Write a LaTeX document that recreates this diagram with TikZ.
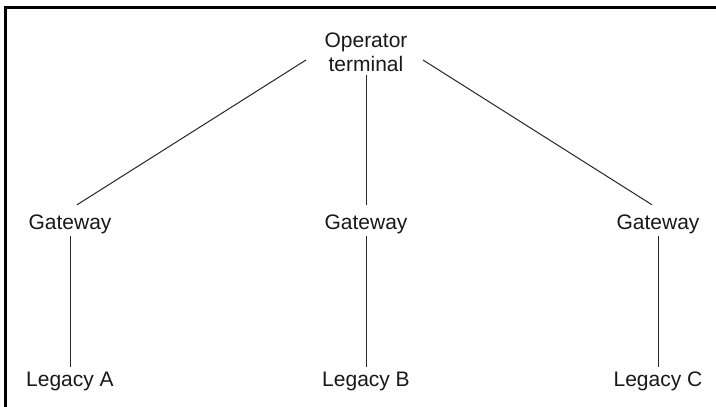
\documentclass[tikz,border=0pt]{standalone}
\usepackage{fontspec}
\setmainfont{Liberation Sans}
\begin{document}
\begin{tikzpicture}[x=1pt,y=-1pt,
  lbl/.style={inner sep=0pt, font=\fontsize{21}{24}\selectfont, text=black!90},
  gw/.style={lbl, anchor=base, text height=24pt, text depth=7pt},
  leg/.style={lbl, anchor=base, text height=19pt, text depth=5pt},
  op/.style={lbl, align=center},
  conn/.style={line width=1pt, black!85},
  frame/.style={line width=3pt, black}]
\useasboundingbox (0,0) rectangle (716,407);
\fill[white] (0,0) rectangle (716,407);
\draw[frame] (5.5,407) -- (5.5,7.5) -- (716,7.5);

\node[op] (op) at (366,52.5) {Operator\\terminal};
\node[gw] (g1) at (70,229) {Gateway};
\node[gw] (g2) at (366,229) {Gateway};
\node[gw] (g3) at (658,229) {Gateway};
\node[leg] (l1) at (70,386) {Legacy A};
\node[leg] (l2) at (366,386) {Legacy B};
\node[leg] (l3) at (658,386) {Legacy C};

\draw[conn] ([shift={(-60,7.5)}]op.center) -- ([shift={(7,0)}]g1.north);
\draw[conn] ([shift={(0,3)}]op.south) -- (g2.north);
\draw[conn] ([shift={(57,7.5)}]op.center) -- ([shift={(-6,0)}]g3.north);
\draw[conn] (g1.south) -- (l1.north);
\draw[conn] (g2.south) -- (l2.north);
\draw[conn] (g3.south) -- (l3.north);
\end{tikzpicture}
\end{document}
